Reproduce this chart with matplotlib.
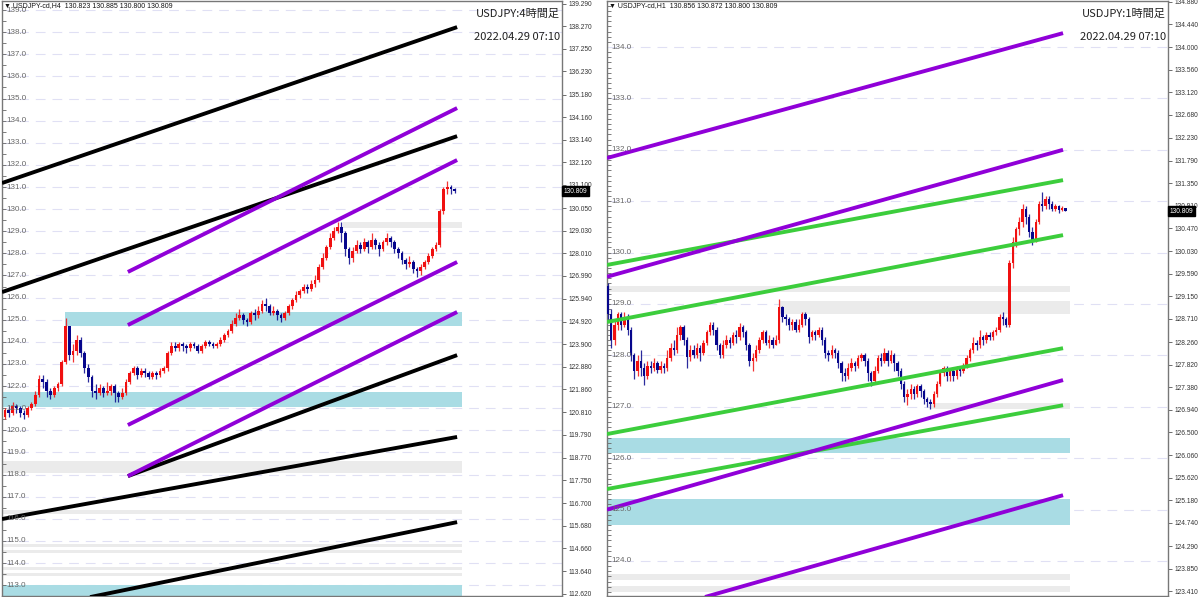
import numpy as np
import matplotlib
matplotlib.use('Agg')
import matplotlib.pyplot as plt
import matplotlib.transforms as mtransforms
from matplotlib.patches import Rectangle

plt.rcParams['font.family'] = ['Liberation Sans', 'DejaVu Sans']
plt.rcParams['lines.scale_dashes'] = False

# ---------------- H4 panel (left) ----------------
h4_open0 = 120.6
h4_close = [120.9, 120.8, 121.1, 121.0, 120.8, 120.7, 121.0, 121.2, 121.6, 122.3,
            122.2, 121.8, 121.6, 121.9, 122.1, 123.1, 124.7, 123.4, 123.6, 124.1,
            123.5, 122.8, 122.4, 121.8, 121.7, 121.9, 121.7, 121.8, 122.0, 121.7,
            121.5, 121.7, 122.2, 122.6, 122.8, 122.5, 122.7, 122.6, 122.4, 122.6,
            122.5, 122.7, 122.8, 123.5, 123.8, 123.7, 123.9, 123.8, 123.7, 123.9,
            123.8, 123.6, 123.8, 124.0, 123.9, 123.8, 123.9, 124.1, 124.3, 124.5,
            124.8, 125.1, 125.2, 125.0, 124.9, 125.3, 125.2, 125.4, 125.7, 125.6,
            125.3, 125.4, 125.2, 125.1, 125.3, 125.6, 125.9, 126.1, 126.3, 126.5,
            126.4, 126.6, 126.8, 127.4, 127.8, 128.3, 128.7, 129.0, 129.2, 128.9,
            128.2, 127.8, 128.1, 128.4, 128.2, 128.5, 128.3, 128.6, 128.4, 128.2,
            128.5, 128.7, 128.5, 128.2, 128.0, 127.7, 127.5, 127.6, 127.3, 127.2,
            127.4, 127.6, 127.9, 128.2, 128.4, 129.9, 130.9, 131.0, 130.9, 130.81]
h4_high = [121.0, 121.1, 121.3, 121.2, 121.1, 120.9, 121.1, 121.3, 121.8, 122.5,
           122.5, 122.3, 121.9, 122.0, 122.2, 123.2, 125.1, 124.7, 123.9, 124.3,
           124.2, 123.6, 123.0, 122.5, 122.1, 122.1, 122.0, 122.2, 122.1, 122.1,
           121.8, 121.9, 122.3, 122.7, 122.9, 122.9, 122.8, 122.8, 122.7, 122.7,
           122.7, 122.8, 122.9, 123.6, 124.0, 124.0, 124.0, 124.0, 123.9, 124.0,
           124.0, 123.9, 123.9, 124.1, 124.1, 124.0, 124.0, 124.2, 124.4, 124.6,
           125.0, 125.3, 125.5, 125.3, 125.1, 125.4, 125.5, 125.6, 125.9, 126.0,
           125.7, 125.6, 125.5, 125.3, 125.4, 125.7, 126.0, 126.3, 126.4, 126.6,
           126.6, 126.8, 127.0, 127.5, 128.0, 128.4, 128.9, 129.2, 129.42, 129.4,
           129.0, 128.3, 128.3, 128.6, 128.5, 128.7, 128.6, 128.9, 128.7, 128.5,
           128.6, 128.9, 128.8, 128.6, 128.3, 128.1, 127.8, 127.9, 127.7, 127.4,
           127.5, 127.7, 128.0, 128.3, 128.5, 130.0, 131.0, 131.25, 131.1, 130.95]
h4_low = [120.5, 120.6, 120.7, 120.8, 120.6, 120.5, 120.6, 120.9, 121.1, 121.5,
          121.9, 121.5, 121.4, 121.5, 121.8, 122.0, 123.0, 123.2, 123.1, 123.4,
          123.3, 122.6, 122.2, 121.5, 121.4, 121.6, 121.5, 121.6, 121.6, 121.3,
          121.3, 121.4, 121.6, 122.1, 122.5, 122.3, 122.4, 122.4, 122.3, 122.3,
          122.3, 122.4, 122.6, 122.7, 123.4, 123.6, 123.6, 123.6, 123.5, 123.6,
          123.7, 123.5, 123.5, 123.7, 123.8, 123.7, 123.7, 123.8, 124.0, 124.2,
          124.4, 124.7, 125.0, 124.8, 124.7, 124.8, 125.0, 125.1, 125.3, 125.4,
          125.2, 125.2, 125.0, 124.9, 125.0, 125.2, 125.5, 125.8, 126.0, 126.2,
          126.2, 126.3, 126.5, 126.7, 127.3, 127.7, 128.2, 128.6, 128.9, 128.5,
          127.9, 127.5, 127.6, 128.0, 128.0, 128.1, 128.0, 128.2, 128.2, 127.9,
          128.1, 128.4, 128.3, 128.0, 127.8, 127.5, 127.3, 127.4, 127.1, 126.95,
          127.0, 127.3, 127.5, 127.8, 128.1, 128.3, 129.8, 130.7, 130.7, 130.75]

h4_axis_ticks = [139.290, 138.270, 137.250, 136.230, 135.180, 134.160, 133.140,
                 132.120, 131.100, 130.050, 129.030, 128.010, 126.990, 125.940,
                 124.920, 123.900, 122.880, 121.860, 120.810, 119.790, 118.770,
                 117.750, 116.700, 115.680, 114.660, 113.640, 112.620]
h4_grid = list(range(113, 140))

# trend lines: (bar0, price0, bar1, price1)
h4_black = [(-0.8, 131.18, 119.6, 138.23),
            (-0.8, 126.25, 119.6, 133.30),
            (32.5, 117.93, 119.6, 123.40),
            (-0.8, 115.99, 119.6, 119.70),
            (22.5, 112.46, 119.6, 115.85)]
h4_purple = [(32.5, 127.16, 119.6, 134.57),
             (32.5, 124.76, 119.6, 132.22),
             (32.5, 120.24, 119.6, 127.61),
             (32.5, 117.93, 119.6, 125.35)]
# zones: (bar0, bar1, price_lo, price_hi)
h4_blue_zones = [(15.9, 120.9, 124.71, 125.35),
                 (-1.5, 120.9, 121.05, 121.73),
                 (-1.5, 120.9, 112.30, 113.00)]
h4_gray_zones = [(89.4, 120.9, 129.14, 129.42),
                 (-1.5, 120.9, 118.07, 118.61),
                 (-1.5, 120.9, 116.22, 116.40),
                 (-1.5, 120.9, 114.72, 114.86),
                 (-1.5, 120.9, 114.45, 114.60),
                 (-1.5, 120.9, 113.70, 113.84),
                 (-1.5, 120.9, 113.40, 113.53)]

# ---------------- H1 panel (right) ----------------
h1_open0 = 129.35
h1_close = [128.8, 128.3, 128.6, 128.8, 128.6, 128.75, 128.5, 128.0, 127.7, 127.9,
            127.75, 127.6, 127.8, 127.75, 127.85, 127.72, 127.8, 127.75, 127.95, 128.15,
            128.1, 128.4, 128.55, 128.3, 127.97, 128.1, 128.0, 128.15, 128.05, 128.25,
            128.45, 128.6, 128.5, 128.2, 128.0, 128.2, 128.3, 128.25, 128.4, 128.35,
            128.55, 128.45, 128.2, 127.9, 127.95, 128.1, 128.3, 128.45, 128.25, 128.3,
            128.2, 128.3, 128.95, 128.75, 128.7, 128.6, 128.65, 128.5, 128.6, 128.8,
            128.7, 128.35, 128.45, 128.4, 128.5, 128.3, 128.05, 128.0, 128.1, 128.05,
            127.85, 127.65, 127.6, 127.75, 127.85, 127.8, 127.95, 128.0, 127.9, 127.65,
            127.5, 127.7, 127.95, 127.9, 128.05, 127.9, 128.0, 127.85, 127.7, 127.45,
            127.2, 127.25, 127.35, 127.25, 127.4, 127.3, 127.15, 127.1, 127.05, 127.25,
            127.45, 127.65, 127.75, 127.6, 127.7, 127.6, 127.75, 127.7, 127.8, 127.95,
            128.1, 128.25, 128.2, 128.35, 128.3, 128.4, 128.35, 128.45, 128.5, 128.75,
            128.7, 128.6, 129.8, 130.2, 130.45, 130.6, 130.85, 130.7, 130.4, 130.25,
            130.6, 130.95, 130.9, 131.05, 130.95, 130.85, 130.9, 130.83, 130.86, 130.81]
h1_high = [129.4, 128.9, 128.7, 128.85, 128.85, 128.85, 128.8, 128.55, 128.05, 128.0,
           128.1, 127.85, 127.9, 127.9, 127.95, 127.9, 127.9, 127.85, 128.1, 128.25,
           128.3, 128.55, 128.6, 128.6, 128.35, 128.2, 128.2, 128.25, 128.2, 128.3,
           128.5, 128.65, 128.65, 128.55, 128.25, 128.3, 128.4, 128.35, 128.45, 128.5,
           128.63, 128.6, 128.5, 128.25, 128.05, 128.2, 128.35, 128.5, 128.5, 128.4,
           128.35, 128.4, 129.1, 128.97, 128.8, 128.75, 128.7, 128.7, 128.7, 128.85,
           128.85, 128.75, 128.5, 128.5, 128.55, 128.55, 128.35, 128.1, 128.2, 128.15,
           128.1, 127.9, 127.75, 127.85, 127.95, 127.9, 128.0, 128.05, 128.05, 127.95,
           127.7, 127.8, 128.0, 128.05, 128.15, 128.1, 128.1, 128.05, 127.9, 127.75,
           127.5, 127.35, 127.45, 127.4, 127.45, 127.45, 127.35, 127.2, 127.15, 127.3,
           127.5, 127.7, 127.8, 127.8, 127.75, 127.75, 127.8, 127.8, 127.85, 128.0,
           128.15, 128.35, 128.3, 128.5, 128.4, 128.45, 128.45, 128.5, 128.55, 128.8,
           128.85, 128.75, 129.85, 130.3, 130.5, 130.7, 130.95, 130.9, 130.75, 130.5,
           130.65, 131.0, 131.18, 131.1, 131.1, 131.0, 130.95, 130.93, 130.9, 130.87]
h1_low = [128.7, 128.15, 128.2, 128.5, 128.5, 128.55, 128.4, 127.9, 127.55, 127.6,
          127.6, 127.42, 127.55, 127.65, 127.7, 127.65, 127.65, 127.65, 127.7, 127.9,
          128.0, 128.05, 128.3, 128.2, 127.76, 127.9, 127.95, 127.95, 127.9, 128.0,
          128.2, 128.4, 128.4, 128.1, 127.95, 127.95, 128.15, 128.15, 128.2, 128.25,
          128.3, 128.35, 128.1, 127.8, 127.7, 127.9, 128.05, 128.25, 128.2, 128.15,
          128.15, 128.2, 128.25, 128.65, 128.6, 128.5, 128.5, 128.45, 128.45, 128.55,
          128.6, 128.25, 128.3, 128.3, 128.35, 128.2, 127.95, 127.9, 127.95, 127.95,
          127.75, 127.5, 127.5, 127.55, 127.7, 127.7, 127.75, 127.9, 127.8, 127.5,
          127.4, 127.45, 127.65, 127.8, 127.85, 127.8, 127.85, 127.7, 127.6, 127.35,
          127.1, 127.03, 127.15, 127.15, 127.2, 127.2, 127.05, 127.0, 126.95, 127.0,
          127.2, 127.4, 127.6, 127.5, 127.5, 127.5, 127.55, 127.6, 127.65, 127.75,
          127.9, 128.05, 128.1, 128.15, 128.2, 128.25, 128.3, 128.3, 128.4, 128.45,
          128.6, 128.55, 128.55, 129.7, 130.1, 130.35, 130.5, 130.55, 130.3, 130.15,
          130.2, 130.55, 130.8, 130.85, 130.85, 130.8, 130.8, 130.78, 130.8, 130.8]

h1_axis_ticks = [134.880, 134.440, 134.000, 133.560, 133.120, 132.680, 132.230,
                 131.790, 131.350, 130.910, 130.470, 130.030, 129.590, 129.150,
                 128.710, 128.260, 127.820, 127.380, 126.940, 126.500, 126.060,
                 125.620, 125.180, 124.740, 124.290, 123.850, 123.410]
h1_grid = list(range(124, 135))

h1_purple = [(-0.3, 131.84, 138.3, 134.27),
             (-0.3, 129.53, 138.3, 132.00),
             (-0.3, 125.00, 138.3, 127.52),
             (29.5, 123.30, 138.3, 125.28)]
h1_green = [(-0.3, 129.76, 138.3, 131.41),
            (-0.3, 128.65, 138.3, 130.34),
            (-0.3, 126.47, 138.3, 128.14),
            (-0.3, 125.40, 138.3, 127.03)]
h1_blue_zones = [(-0.5, 140.4, 126.10, 126.39),
                 (-0.5, 140.4, 124.70, 125.21)]
h1_gray_zones = [(-0.5, 140.4, 129.23, 129.35),
                 (52.3, 140.4, 128.81, 129.06),
                 (97.9, 140.4, 126.96, 127.07),
                 (-0.5, 140.4, 123.63, 123.75),
                 (-0.5, 140.4, 123.40, 123.51)]

last_price = 130.809

UP = '#f01010'
DOWN = '#06068c'
BLUE_ZONE = '#a9dce4'
GRAY_ZONE = '#ebebeb'
PURPLE = '#9000d8'
GREEN = '#3ccd3c'
CJK = ['Noto Sans CJK JP', 'DejaVu Sans']

W, H = 1200, 597
fig = plt.figure(figsize=(12, 5.97), dpi=100)


def px_axes(x0, x1, y0, y1):
    return fig.add_axes([x0 / W, 1 - y1 / H, (x1 - x0) / W, (y1 - y0) / H])


def draw_candles(ax, open0, close, high, low, width, min_body):
    opens = [open0] + close[:-1]
    xs = np.arange(len(close))
    cols = [UP if c >= o else DOWN for o, c in zip(opens, close)]
    ax.vlines(xs, low, high, colors=cols, linewidth=0.9, alpha=0.85, zorder=3)
    bottoms = [min(o, c) for o, c in zip(opens, close)]
    heights = [max(abs(c - o), min_body) for o, c in zip(opens, close)]
    ax.bar(xs, heights, bottom=bottoms, width=width, color=cols, linewidth=0, zorder=3)


def draw_zones(ax, zones, color):
    for x0, x1, lo, hi in zones:
        ax.add_patch(Rectangle((x0, lo), x1 - x0, hi - lo, facecolor=color,
                               edgecolor='none', zorder=1))


def draw_lines(ax, lines, color):
    for x0, p0, x1, p1 in lines:
        ax.plot([x0, x1], [p0, p1], color=color, lw=2.8, zorder=4,
                solid_capstyle='butt')


def setup(ax, xlim, ylim, ticks, grid, minor_step, header, title):
    ax.set_xlim(*xlim)
    ax.set_ylim(*ylim)
    ax.set_xticks([])
    ax.yaxis.tick_right()
    ax.set_yticks(ticks)
    ax.set_yticklabels([f'{t:.3f}' for t in ticks])
    ax.tick_params(axis='y', which='major', right=True, left=False,
                   labelright=True, labelleft=False, direction='out',
                   length=3, width=0.6, color='#555555', labelcolor='#333333',
                   labelsize=4.8, pad=1.5)
    ax.set_yticks(np.arange(np.ceil(ylim[0] / minor_step) * minor_step, ylim[1],
                            minor_step), minor=True)
    ax.tick_params(axis='y', which='minor', left=True, right=False,
                   direction='in', length=3, width=0.6, color='#666666')
    for s in ax.spines.values():
        s.set_color('#777777')
        s.set_linewidth(1.0)

    blend = mtransforms.blended_transform_factory(ax.transAxes, ax.transData)
    for g in grid:
        ax.axhline(g, color='#e0e0f4', lw=0.8, dashes=(7, 5), zorder=0.5)
        ax.text(0.007, g, f'{g:.1f}', transform=blend, fontsize=5.8,
                color='#666666', va='center', ha='left', zorder=6)

    ax.text(0.004, 0.992, header, transform=ax.transAxes, fontsize=5.0,
            color='#111111', va='center', ha='left', zorder=7)
    ax.text(0.996, 0.978, title, transform=ax.transAxes, fontsize=8,
            family=CJK, color='#222222', va='center', ha='right', zorder=7)
    ax.text(0.996, 0.939, '2022.04.29 07:10', transform=ax.transAxes,
            fontsize=8, family=CJK, color='#222222', va='center', ha='right',
            zorder=7)
    ax.text(1.003, last_price, f'{last_price:.3f}', transform=blend,
            fontsize=4.8, color='white', va='center', ha='left', zorder=8,
            clip_on=False,
            bbox=dict(boxstyle='square,pad=0.25', facecolor='black',
                      edgecolor='black'))


# left panel
ax1 = px_axes(2, 562, 1, 596)
setup(ax1, (-0.8, 147.35), (112.51, 139.41), h4_axis_ticks, h4_grid, 0.5,
      '\u25bc USDJPY-cd,H4  130.823 130.885 130.800 130.809', 'USDJPY:4時間足')
draw_zones(ax1, h4_blue_zones, BLUE_ZONE)
draw_zones(ax1, h4_gray_zones, GRAY_ZONE)
draw_candles(ax1, h4_open0, h4_close, h4_high, h4_low, 0.75, 0.03)
draw_lines(ax1, h4_black, 'black')
draw_lines(ax1, h4_purple, PURPLE)

# right panel
ax2 = px_axes(607, 1168, 1, 596)
setup(ax2, (-0.3, 170.2), (123.319, 134.895), h1_axis_ticks, h1_grid, 0.1,
      '\u25bc USDJPY-cd,H1  130.856 130.872 130.800 130.809', 'USDJPY:1時間足')
draw_zones(ax2, h1_blue_zones, BLUE_ZONE)
draw_zones(ax2, h1_gray_zones, GRAY_ZONE)
draw_candles(ax2, h1_open0, h1_close, h1_high, h1_low, 0.72, 0.015)
draw_lines(ax2, h1_green, GREEN)
draw_lines(ax2, h1_purple, PURPLE)

fig.savefig('out.png', dpi=100)
